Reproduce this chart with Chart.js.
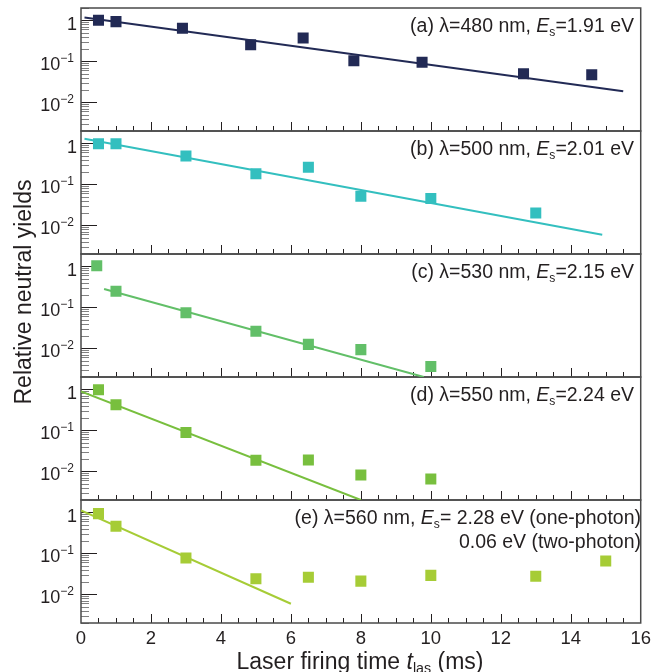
<!DOCTYPE html>
<html>
<head>
    <meta charset="UTF-8" />
    <title>Relative neutral yields vs laser firing time</title>
    <script src="https://cdn.jsdelivr.net/npm/chart.js@4.4.1/dist/chart.umd.min.js"></script>
    <style>
        html, body {
            margin: 0;
            padding: 0;
            background: #fff;
        }

        #wrap {
            width: 656px;
            height: 672px;
            position: relative;
        }
    </style>
</head>
<body>

<div id="wrap"><canvas id="yieldChart"></canvas></div>

<script>
    // (a) 480 nm
    const timesA = [0.5, 1, 2.9, 4.85, 6.35, 7.8, 9.75, 12.65, 14.6];
    const yieldsA = [1.0, 0.93, 0.64, 0.255, 0.37, 0.104, 0.095, 0.050, 0.047];
    const fitTimesA = [0.1, 15.5];
    const fitYieldsA = [1.18, 0.0186];

    // (b) 500 nm
    const timesB = [0.5, 1, 3, 5, 6.5, 8, 10, 13];
    const yieldsB = [0.98, 0.98, 0.49, 0.182, 0.26, 0.051, 0.045, 0.020];
    const fitTimesB = [0.1, 14.9];
    const fitYieldsB = [1.30, 0.0059];

    // (c) 530 nm
    const timesC = [0.45, 1, 3, 5, 6.5, 8, 10];
    const yieldsC = [1.04, 0.246, 0.074, 0.026, 0.0125, 0.0093, 0.0036];
    const fitTimesC = [0.66, 9.8];
    const fitYieldsC = [0.28, 0.002];

    // (d) 550 nm
    const timesD = [0.5, 1, 3, 5, 6.5, 8, 10];
    const yieldsD = [0.98, 0.42, 0.089, 0.0186, 0.019, 0.0081, 0.0065];
    const fitTimesD = [0, 8.0];
    const fitYieldsD = [0.89, 0.002];

    // (e) 560 nm
    const timesE = [0.5, 1, 3, 5, 6.5, 8, 10, 13, 15];
    const yieldsE = [0.93, 0.46, 0.077, 0.024, 0.026, 0.021, 0.029, 0.0276, 0.065];
    const fitTimesE = [0, 6];
    const fitYieldsE = [1.12, 0.0059];

    const xTicks = [0, 2, 4, 6, 8, 10, 12, 14, 16];
    const yLabelValues = [1, 0.1, 0.01];

    const FONT = '"Liberation Sans", Arial, Helvetica, sans-serif';
    const INK = '#231f20';

    const panels = [
        { id: 'ya', color: '#222a55', t: timesA, y: yieldsA, ft: fitTimesA, fy: fitYieldsA,
          lines: [[{t: '(a) λ=480 nm, '}, {t: 'E', it: true}, {t: 's', sub: true}, {t: '=1.91 eV'}]] },
        { id: 'yb', color: '#33bfbf', t: timesB, y: yieldsB, ft: fitTimesB, fy: fitYieldsB,
          lines: [[{t: '(b) λ=500 nm, '}, {t: 'E', it: true}, {t: 's', sub: true}, {t: '=2.01 eV'}]] },
        { id: 'yc', color: '#62bf68', t: timesC, y: yieldsC, ft: fitTimesC, fy: fitYieldsC,
          lines: [[{t: '(c) λ=530 nm, '}, {t: 'E', it: true}, {t: 's', sub: true}, {t: '=2.15 eV'}]] },
        { id: 'yd', color: '#78bf3e', t: timesD, y: yieldsD, ft: fitTimesD, fy: fitYieldsD,
          lines: [[{t: '(d) λ=550 nm, '}, {t: 'E', it: true}, {t: 's', sub: true}, {t: '=2.24 eV'}]] },
        { id: 'ye', color: '#a6cc36', t: timesE, y: yieldsE, ft: fitTimesE, fy: fitYieldsE,
          lines: [[{t: '(e) λ=560 nm, '}, {t: 'E', it: true}, {t: 's', sub: true}, {t: '= 2.28 eV (one-photon)'}],
                  [{t: '0.06 eV (two-photon)'}]] }
    ];

    function partFont(p, size) {
        const s = (p.sub || p.sup) ? size * 0.62 : size;
        return (p.it ? 'italic ' : '') + s + 'px ' + FONT;
    }

    function drawRich(ctx, parts, x, baseline, size, align) {
        let total = 0;
        const widths = parts.map(p => {
            ctx.font = partFont(p, size);
            const w = ctx.measureText(p.t).width;
            total += w;
            return w;
        });
        let cx = align === 'right' ? x - total : (align === 'center' ? x - total / 2 : x);
        ctx.textAlign = 'left';
        ctx.textBaseline = 'alphabetic';
        parts.forEach((p, i) => {
            ctx.font = partFont(p, size);
            const dy = p.sub ? size * 0.18 : (p.sup ? -size * 0.42 : 0);
            ctx.fillText(p.t, cx, baseline + dy);
            cx += widths[i];
        });
    }

    // frame, inward ticks and all the hand-set text
    const panelFrame = {
        id: 'panelFrame',
        beforeDatasetsDraw(chart) {
            const ctx = chart.ctx;
            const xs = chart.scales.x;
            const area = chart.chartArea;
            ctx.save();
            panels.forEach(p => {
                const s = chart.scales[p.id];
                for (let e = -3; e <= 0; e++) {
                    for (let m = 1; m <= 9; m++) {
                        const v = m * Math.pow(10, e);
                        if (v < s.min * 0.999 || v > s.max * 1.001) continue;
                        const py = Math.round(s.getPixelForValue(v)) + 0.5;
                        ctx.strokeStyle = m === 1 ? INK : '#808080';
                        ctx.lineWidth = 1;
                        ctx.beginPath();
                        ctx.moveTo(area.left, py);
                        ctx.lineTo(area.left + (m === 1 ? 16 : 8), py);
                        ctx.stroke();
                    }
                }
                for (let k = 1; k < 32; k++) {
                    const t = k * 0.5;
                    const px = Math.round(xs.getPixelForValue(t)) + 0.5;
                    const len = (k % 4 === 0) ? 9 : 5;
                    ctx.strokeStyle = INK;
                    ctx.lineWidth = 1;
                    ctx.beginPath();
                    ctx.moveTo(px, s.bottom);
                    ctx.lineTo(px, s.bottom - len);
                    ctx.stroke();
                }
                ctx.strokeStyle = '#4a4a4a';
                ctx.lineWidth = 1.5;
                ctx.strokeRect(area.left, s.top, area.right - area.left, s.bottom - s.top);
            });
            ctx.restore();
        },
        afterDraw(chart) {
            const ctx = chart.ctx;
            ctx.save();
            ctx.fillStyle = INK;
            panels.forEach(p => {
                const s = chart.scales[p.id];
                // y tick labels
                yLabelValues.forEach(v => {
                    const py = s.getPixelForValue(v);
                    ctx.textAlign = 'right';
                    ctx.textBaseline = 'middle';
                    if (v === 1) {
                        ctx.font = '18px ' + FONT;
                        ctx.fillText('1', 77, py + 5);
                    } else {
                        const sup = '−' + Math.round(-Math.log10(v));
                        ctx.font = '12px ' + FONT;
                        const w = ctx.measureText(sup).width;
                        ctx.fillText(sup, 74, py - 3);
                        ctx.font = '18px ' + FONT;
                        ctx.fillText('10', 74 - w, py + 3.5);
                    }
                });
                // panel caption
                const right = p.lines.length > 1 ? 641 : 634;
                p.lines.forEach((parts, i) => {
                    drawRich(ctx, parts, right, s.top + 24 + i * 24, 19.5, 'right');
                });
            });

            // axis titles
            drawRich(ctx, [{t: 'Laser firing time '}, {t: 't', it: true}, {t: 'las', sub: true}, {t: ' (ms)'}],
                360, 669, 23, 'center');

            ctx.translate(31, 292);
            ctx.rotate(-Math.PI / 2);
            drawRich(ctx, [{t: 'Relative neutral yields'}], 0, 0, 23, 'center');
            ctx.restore();
        }
    };

    const datasets = [];
    panels.forEach(p => {
        datasets.push({
            label: p.id + ' data',
            data: p.t.map((t, i) => ({x: t, y: p.y[i]})),
            yAxisID: p.id,
            showLine: false,
            pointStyle: 'rect',
            pointRadius: 7.8,
            pointHoverRadius: 7.8,
            pointBorderWidth: 0,
            backgroundColor: p.color,
            borderColor: p.color,
            order: 0
        });
        datasets.push({
            label: p.id + ' fit',
            data: p.ft.map((t, i) => ({x: t, y: p.fy[i]})),
            yAxisID: p.id,
            showLine: true,
            pointRadius: 0,
            borderWidth: 2,
            borderColor: p.color,
            fill: false,
            order: 1
        });
    });

    const scales = {
        x: {
            type: 'linear',
            position: 'bottom',
            min: 0,
            max: 16,
            afterBuildTicks: s => { s.ticks = xTicks.map(v => ({value: v})); },
            ticks: {
                color: INK,
                font: {family: FONT, size: 18.5},
                padding: 5,
                maxRotation: 0
            },
            grid: {display: false, drawTicks: false},
            border: {display: false},
            afterFit: s => { s.height = 49; }
        }
    };
    // stacked axes are laid out last-defined first, so add them bottom to top
    panels.slice().reverse().forEach(p => {
        scales[p.id] = {
            type: 'logarithmic',
            position: 'left',
            stack: 'panels',
            stackWeight: 1,
            min: 0.002,
            max: 2,
            ticks: {display: false},
            grid: {display: false, drawTicks: false},
            border: {display: false},
            afterFit: s => { s.width = 81; }
        };
    });

    new Chart(document.getElementById('yieldChart'), {
        type: 'scatter',
        data: {datasets: datasets},
        options: {
            responsive: true,
            maintainAspectRatio: false,
            animation: false,
            layout: {padding: {top: 8, right: 11, left: 0, bottom: 0}},
            plugins: {
                legend: {display: false},
                tooltip: {enabled: false}
            },
            scales: scales
        },
        plugins: [panelFrame]
    });
</script>

</body>
</html>
